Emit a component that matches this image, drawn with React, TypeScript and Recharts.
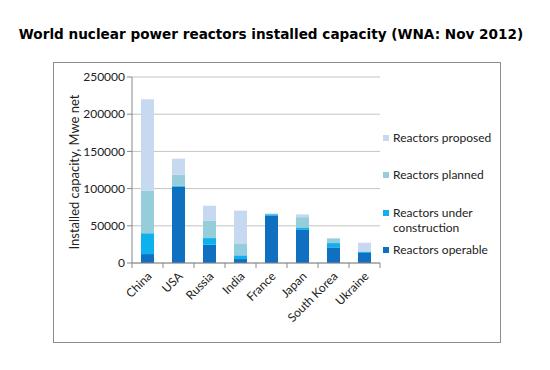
import { Bar, BarChart, CartesianGrid, XAxis, YAxis } from "recharts";

const countries = ["China", "USA", "Russia", "India", "France", "Japan", "South Korea", "Ukraine"];
const operable = [12000, 102500, 24500, 5300, 64000, 44500, 21000, 13500];
const underConstruction = [28000, 1200, 9000, 5000, 1600, 3300, 5800, 1900];
const planned = [57500, 15000, 23700, 15200, 0, 13800, 6300, 0];
const proposed = [122500, 21500, 19800, 44900, 1000, 3800, 0, 11800];
const yTicks = [0, 50000, 100000, 150000, 200000, 250000];

const series = [
  { key: "operable", name: "Reactors operable", color: "#0f6fc0" },
  { key: "underConstruction", name: "Reactors under construction", color: "#0fb0ee" },
  { key: "planned", name: "Reactors planned", color: "#95cddb" },
  { key: "proposed", name: "Reactors proposed", color: "#c7d9f0" }
];

const data = countries.map((country, i) => ({
  country,
  operable: operable[i],
  underConstruction: underConstruction[i],
  planned: planned[i],
  proposed: proposed[i]
}));

const font = "Lato, 'Open Sans', sans-serif";
const band = 248 / countries.length;

function CountryTick(props: any) {
  const { x, y, payload } = props;
  return (
    <g>
      <line x1={x - band / 2} x2={x - band / 2} y1={y - 8} y2={y - 3} stroke="#888" />
      {payload.index === countries.length - 1 && (
        <line x1={x + band / 2} x2={x + band / 2} y1={y - 8} y2={y - 3} stroke="#888" />
      )}
      <text
        x={x + 5}
        y={y + 6}
        transform={`rotate(-45, ${x + 5}, ${y + 6})`}
        textAnchor="end"
        fontSize={12}
        fontFamily={font}
        fill="#222"
      >
        {payload.value}
      </text>
    </g>
  );
}

function LegendBox() {
  const items = [...series].reverse();
  const tops = [0, 37, 75, 112];
  return (
    <div style={{ position: "absolute", left: 383, top: 130, width: 120, height: 130, fontFamily: font, fontSize: 12, color: "#222" }}>
      {items.map((s, i) => (
        <div key={s.key} style={{ position: "absolute", left: 0, top: tops[i], display: "flex", alignItems: "flex-start" }}>
          <span style={{ width: 6, height: 6, background: s.color, marginTop: 5, marginRight: 4, flexShrink: 0 }} />
          <span style={{ lineHeight: "15px", width: 100 }}>{s.name}</span>
        </div>
      ))}
    </div>
  );
}

export default function App() {
  return (
    <div style={{ position: "absolute", left: 0, top: 0, width: 550, height: 370, background: "#fff" }}>
      <div
        style={{
          position: "absolute",
          left: -4,
          width: 550,
          top: 26,
          textAlign: "center",
          fontFamily: "'DejaVu Sans', Verdana, sans-serif",
          fontWeight: "bold",
          fontSize: 13.6,
          color: "#000"
        }}
      >
        World nuclear power reactors installed capacity (WNA: Nov 2012)
      </div>
      <div
        style={{
          position: "absolute",
          left: 53,
          top: 62,
          width: 446,
          height: 279,
          border: "1.5px solid #8c8c8c"
        }}
      />
      <div style={{ position: "absolute", left: 0, top: 0 }}>
        <BarChart width={550} height={370} data={data} margin={{ top: 77, right: 170, left: 72, bottom: 47 }}>
          <CartesianGrid vertical={false} stroke="#c4c4c4" />
          <XAxis
            dataKey="country"
            height={60}
            stroke="#888"
            tickLine={false}
            tick={<CountryTick />}
            interval={0}
          />
          <YAxis
            width={60}
            domain={[0, 250000]}
            ticks={yTicks}
            stroke="#888"
            tickSize={5}
            tick={{ fontSize: 12, fontFamily: font, fill: "#222" }}
            label={{
              content: () => (
                <text
                  x={74}
                  y={172}
                  transform="rotate(-90, 74, 172)"
                  textAnchor="middle"
                  dominantBaseline="central"
                  fontSize={13}
                  fontFamily={font}
                  fill="#222"
                >
                  Installed capacity, Mwe net
                </text>
              )
            }}
          />
          {series.map((s) => (
            <Bar
              key={s.key}
              dataKey={s.key}
              name={s.name}
              stackId="cap"
              fill={s.color}
              barSize={13}
              isAnimationActive={false}
            />
          ))}
        </BarChart>
      </div>
      <LegendBox />
    </div>
  );
}
